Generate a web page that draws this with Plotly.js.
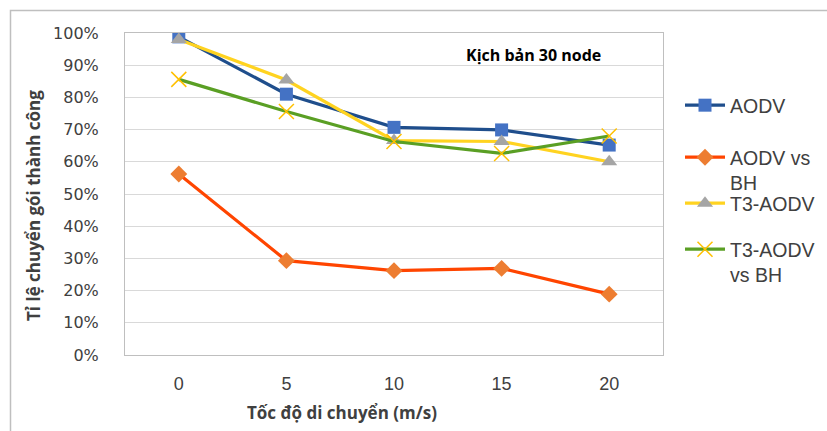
<!DOCTYPE html>
<html>
<head>
<meta charset="utf-8">
<script src="https://cdn.plot.ly/plotly-3.0.1.min.js"></script>
<style>html,body{margin:0;padding:0;background:#fff;}#chart{width:827px;height:431px;}</style>
</head>
<body>
<div id="chart"></div>
<script>
const speeds = [0, 5, 10, 15, 20];
const seriesNames = ["AODV", "AODV vs<br>BH", "T3-AODV", "T3-AODV<br>vs BH"];
const aodv = [0.988, 0.81, 0.707, 0.699, 0.652];
const aodvBH = [0.562, 0.293, 0.262, 0.269, 0.189];
const t3aodv = [0.98, 0.854, 0.666, 0.663, 0.60];
const t3aodvBH = [0.856, 0.756, 0.663, 0.626, 0.68];
const yTicks = [0, 0.1, 0.2, 0.3, 0.4, 0.5, 0.6, 0.7, 0.8, 0.9, 1.0];
const yTickText = ["0%", "10%", "20%", "30%", "40%", "50%", "60%", "70%", "80%", "90%", "100%"];

const W = 827, H = 431, ml = 125, mr = 164, mt = 33, mb = 76;
const pw = W - ml - mr, ph = H - mt - mb;
const px = x => (x - ml) / pw;
const py = y => 1 - (y - mt) / ph;

const traces = [
  {x: speeds, y: aodv, name: seriesNames[0], legend: "legend",
   line: {color: "#1f4e8c", width: 3.2}, marker: {symbol: "square", color: "#4472c4", size: 13}},
  {x: speeds, y: aodvBH, name: seriesNames[1], legend: "legend2",
   line: {color: "#ff4500", width: 3.2}, marker: {symbol: "diamond", color: "#ed7d31", size: 13}},
  {x: speeds, y: t3aodv, name: seriesNames[2], legend: "legend3",
   line: {color: "#ffd320", width: 3.2}, marker: {symbol: "triangle-up", color: "#a5a5a5", size: 14}},
  {x: speeds, y: t3aodvBH, name: seriesNames[3], legend: "legend4",
   line: {color: "#5a9f24", width: 3.2}, marker: {symbol: "x-thin", size: 15, line: {color: "#ffc000", width: 1.5}}}
].map(t => Object.assign({type: "scatter", mode: "lines+markers"}, t));

const legFont = {family: "'Liberation Sans', Arial, sans-serif", size: 19.5, color: "#404040"};
const leg = (yc) => ({xref: "container", yref: "container", x: 680 / W, y: 1 - (yc - 20) / H,
  xanchor: "left", yanchor: "top", font: legFont, valign: "top", itemwidth: 40, bgcolor: "rgba(0,0,0,0)"});

const titleFont = {family: "'Open Sans', sans-serif", size: 17, color: "#404040"};

const layout = {
  width: W, height: H,
  margin: {l: ml, r: mr, t: mt, b: mb},
  paper_bgcolor: "#fff", plot_bgcolor: "#fff",
  font: {family: "'DejaVu Sans', sans-serif", color: "#404040"},
  xaxis: {
    range: [-2.5, 22.5], tickvals: speeds, ticktext: speeds.map(String),
    showgrid: false, zeroline: false, showline: true, mirror: true, linecolor: "#bfbfbf", linewidth: 1,
    ticks: "outside", ticklen: 12, tickcolor: "rgba(0,0,0,0)",
    tickfont: {family: "'Liberation Sans', Arial, sans-serif", size: 18, color: "#404040"}, fixedrange: true
  },
  yaxis: {
    range: [0, 1], tickvals: yTicks, ticktext: yTickText,
    showgrid: true, gridcolor: "#d9d9d9", gridwidth: 1, zeroline: false,
    showline: true, mirror: true, linecolor: "#bfbfbf", linewidth: 1,
    ticks: "outside", ticklen: 22, tickcolor: "rgba(0,0,0,0)",
    tickfont: {family: "'DejaVu Sans', sans-serif", size: 16, color: "#404040"}, fixedrange: true
  },
  showlegend: true,
  legend: leg(106), legend2: leg(158), legend3: leg(204), legend4: leg(250),
  annotations: [
    {text: "<b>Kịch bản 30 node</b>", xref: "paper", yref: "paper", x: px(533), y: py(55),
     xanchor: "center", yanchor: "middle", showarrow: false,
     font: {family: "'Open Sans', sans-serif", size: 16, color: "#000"}},
    {text: "<b>Tốc độ di chuyển (m/s)</b>", xref: "paper", yref: "paper", x: px(342), y: py(412),
     xanchor: "center", yanchor: "middle", showarrow: false, font: titleFont},
    {text: "<b>Tỉ lệ chuyển gói thành công</b>", xref: "paper", yref: "paper", x: px(33), y: py(206),
     xanchor: "center", yanchor: "middle", textangle: -90, showarrow: false, font: titleFont}
  ],
  shapes: [
    {type: "rect", xref: "paper", yref: "paper", x0: px(10.5), x1: px(840), y0: py(10.5), y1: py(445),
     line: {color: "#bfbfbf", width: 1.5}, fillcolor: "rgba(0,0,0,0)", layer: "below"}
  ]
};

Plotly.newPlot("chart", traces, layout, {displayModeBar: false, staticPlot: true});
</script>
</body>
</html>
